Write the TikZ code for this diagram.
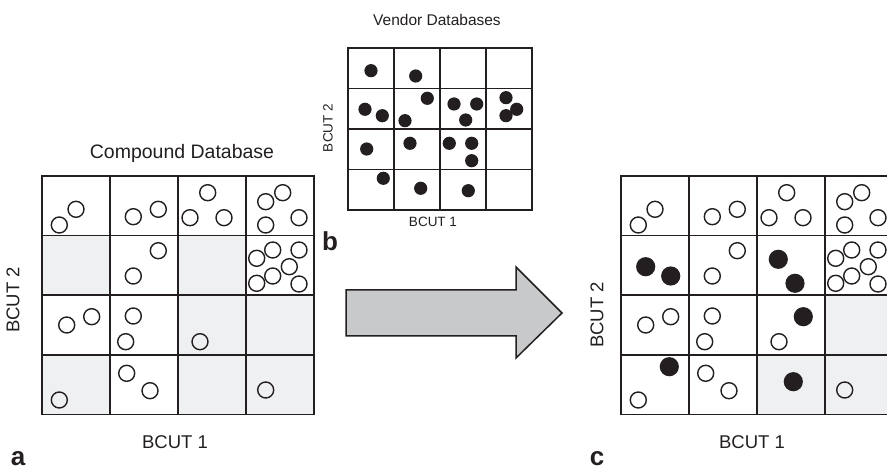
\documentclass[tikz,border=0pt]{standalone}
\usepackage{fontspec}
\setmainfont{Liberation Sans}
\definecolor{ink}{HTML}{231F20}
\definecolor{cellgray}{HTML}{EFF0F1}
\definecolor{arrowgray}{HTML}{C8C9CB}
\begin{document}
\begin{tikzpicture}[x=1pt,y=-1pt,
  gridline/.style={draw=ink, line width=1.6pt},
  emptycell/.style={fill=cellgray},
  opendot/.style={draw=ink, line width=1.4pt},
  fulldot/.style={fill=ink},
  axislabel/.style={text=ink, inner sep=0pt, font=\fontsize{18.5}{20}\selectfont},
  smalllabel/.style={text=ink, inner sep=0pt, font=\fontsize{13.5}{15}\selectfont},
  panel/.style={text=ink, inner sep=0pt, anchor=base, font=\fontsize{26}{28}\selectfont\bfseries},
  bigarrow/.style={fill=arrowgray, draw=ink, line width=1.5pt, line join=miter}]
\useasboundingbox (0,0) rectangle (887,470);
\clip (0,0) rectangle (887,470);

% open circles of the compound database (positions for panel a)
\def\compounds{(59.3,225),(76,209.3),
  (133.3,216.7),(158.3,209.3),
  (207.7,192.7),(190,217.7),(224,217.7),
  (265.7,201.7),(282.7,192.7),(265.7,225),(299,217.7),
  (158.3,250.7),(133.3,276),
  (256.7,258.3),(272.7,250),(299,250),(289.3,266.7),(272.7,276),(256.7,283.3),(299,284),
  (66.7,325),(91.7,316.7),
  (133.3,316),(125.7,341.7),
  (200,341.7),
  (59.3,400),
  (126.7,373.3),(150,390.7),
  (265.7,390)}

% ---------- panel a: compound database ----------
\begin{scope}
  \foreach \c/\r in {0/1,2/1,2/2,3/2,0/3,2/3,3/3}
    \fill[emptycell] (42+\c*68,176+\r*59.6) rectangle ++(68,59.6);
  \foreach \i in {1,2,3}
    \draw[gridline] (42+\i*68,176) -- (42+\i*68,414.4);
  \foreach \i in {1,2,3}
    \draw[gridline] (42,176+\i*59.6) -- (314,176+\i*59.6);
  \draw[gridline] (42,176) rectangle (314,414.4);
  \foreach \p in \compounds \draw[opendot] \p circle[radius=8];
\end{scope}
\node[text=ink, inner sep=0pt, font=\fontsize{19.5}{22}\selectfont] (titleA) at (182,153) {Compound Database};
\node[axislabel, rotate=90] (yA) at (13,300) {BCUT 2};
\node[axislabel] (xA) at (175,442) {BCUT 1};
\node[panel] (labA) at (18,466) {a};

% ---------- panel b: vendor databases ----------
\begin{scope}
  \foreach \i in {1,2,3}
    \draw[gridline, line width=1.5pt] (348+\i*46,48) -- (348+\i*46,210);
  \foreach \i in {1,2,3}
    \draw[gridline, line width=1.5pt] (348,48+\i*40.5) -- (532,48+\i*40.5);
  \draw[gridline, line width=1.5pt] (348,48) rectangle (532,210);
  \foreach \p in {(371,70.7),(415.7,76),
      (365,109.3),(382.3,115.7),(427.3,98.3),(405,120.7),
      (454,104),(476.7,104),(465.7,120),
      (506,97.7),(516.7,109.3),(506,115.7),
      (366.7,149),(410,143.3),(449.3,143.3),(471.7,143.3),(471.7,160.7),
      (383.3,178.3),(420.7,188.3),(468.3,190.7)}
    \fill[fulldot] \p circle[radius=6.6];
\end{scope}
\node[text=ink, inner sep=0pt, font=\fontsize{15.5}{18}\selectfont] (titleB) at (437,20) {Vendor Databases};
\node[smalllabel, rotate=90] (yB) at (328,128) {BCUT 2};
\node[smalllabel] (xB) at (433,222) {BCUT 1};
\node[panel] (labB) at (330,251) {b};

% ---------- transfer arrow ----------
\draw[bigarrow] (346,290) -- (516,290) -- (516,267) -- (562,313)
  -- (516,358) -- (516,336) -- (346,336) -- cycle;

% ---------- panel c: merged result ----------
\begin{scope}[xshift=579]
  \foreach \c/\r in {3/2,2/3,3/3}
    \fill[emptycell] (42+\c*68,176+\r*59.6) rectangle ++(68,59.6);
  \foreach \i in {1,2,3}
    \draw[gridline] (42+\i*68,176) -- (42+\i*68,414.4);
  \foreach \i in {1,2,3}
    \draw[gridline] (42,176+\i*59.6) -- (314,176+\i*59.6);
  \draw[gridline] (42,176) rectangle (314,414.4);
  \foreach \p in \compounds \draw[opendot] \p circle[radius=8];
\end{scope}
\foreach \p in {(645.7,266.7),(670.7,276),(778.3,259.3),(795,283.3),
    (803.3,316.7),(669.3,366.7),(793.3,381.7)}
  \fill[fulldot] \p circle[radius=9.6];
\node[axislabel, rotate=90] (yC) at (597,315) {BCUT 2};
\node[axislabel] (xC) at (752,442) {BCUT 1};
\node[panel] (labC) at (597,466) {c};
\end{tikzpicture}
\end{document}
